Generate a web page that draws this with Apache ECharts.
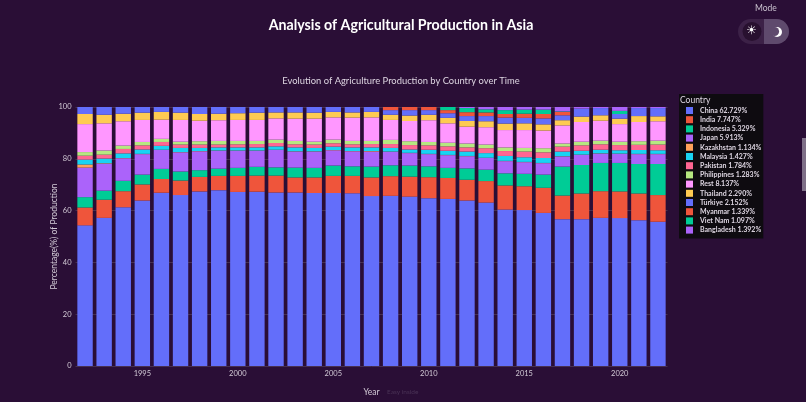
<!DOCTYPE html>
<html>
<head>
<meta charset="utf-8">
<style>
html, body { margin: 0; padding: 0; background: #2a0e36; overflow: hidden; }
#chart { width: 806px; height: 402px; }
</style>
<script src="https://cdn.jsdelivr.net/npm/echarts@6/dist/echarts.min.js"></script>
</head>
<body>
<div id="chart"></div>
<script>
"use strict"

const years = [1992,1993,1994,1995,1996,1997,1998,1999,2000,2001,2002,2003,2004,2005,2006,2007,2008,2009,2010,2011,2012,2013,2014,2015,2016,2017,2018,2019,2020,2021,2022];

const china      = [54.3,57.2,61.3,63.9,66.9,66,67.4,67.9,67.2,67.3,67,67,66.8,66.8,66.7,65.6,65.7,65.4,64.8,64.5,63.9,63.1,60.4,60.2,59.1,56.7,56.7,57.2,57.1,56.3,55.7];
const india      = [6.9,7,6.2,6.2,5.3,5.6,5.6,5.5,6.2,6.2,6.5,5.8,6,6.6,6.7,7.2,7.6,7.7,8.1,8.1,8,8.3,9.3,9.2,9.7,9.1,9.9,10.3,10.3,10.3,10.3];
const indonesia  = [4,3.5,4,3.8,3.9,3.5,2.6,2.8,3.1,3.4,3.2,3.8,3.7,4,3.7,4.2,4.2,4.3,4.2,3.9,4.4,4.4,4.7,4.8,5.1,11.2,11,10.9,11,11.4,12];
const japan      = [11.4,10.4,8.7,7.9,7.3,7.4,7.3,6.9,6.6,6.2,6.7,6.2,6.3,5.9,5.8,5.8,5.2,4.8,4.7,4.9,4.7,4.5,4.7,4.5,4.4,3.9,3.9,3.6,3.5,3.8,3.8];
const kazakhstan = [1.2,0.2,0.1,0.1,0.1,0.1,0.1,0.1,0.1,0.1,0.1,0.1,0.1,0.1,0.1,0.2,0.1,0.1,0.1,0.1,0.1,0.1,0.1,0.1,0.1,0.1,0.1,0.1,0.1,0.1,0.1];
const malaysia   = [1.9,1.8,1.8,1.7,1.5,1.6,1.2,1.2,1.2,1.2,1.3,1.5,1.3,1.3,1.4,1.4,1.4,1.3,1.6,1.6,1.7,1.8,1.9,1.8,1.9,1.8,1.5,1.4,1.3,1.5,1.4];
const pakistan   = [1.5,1.5,1.7,1.6,1.5,1.3,1.3,1.1,1.2,1.3,1.3,1.2,1.3,1.3,1.2,1.3,1.5,1.7,1.7,1.7,1.6,1.9,1.9,2.2,2.2,1.9,2.1,2.1,2,2,2.2];
const philippines= [1.4,1.6,1.3,1.3,1.2,1.1,1.3,1.4,1.3,1.2,1.3,1.3,1.1,1.4,1.3,1.2,1.6,1.5,1.3,1.4,1.5,1.4,1.4,1.4,1.6,1.2,1.4,1.4,1.3,1.4,1.5];
const rest       = [10.8,10.5,9.4,8.5,7.4,8.4,7.9,8,8.1,8.1,8.2,8.6,8.9,8.6,9,9.1,7.7,7.8,8.4,7.5,6.5,6.7,6.7,6.9,6.8,7,7.6,7.7,6.8,7.4,7.5];
const thailand   = [3.9,3.3,2.9,2.8,3,2.8,2.6,2.5,2.6,2.8,2.3,2.4,2.3,2.1,2,2.1,2,2.1,2.1,2.1,2.2,2.3,2.5,2.6,2.4,2,2.1,2.1,2.1,2.3,1.9];
const turkiye    = [2.7,3,2.6,2.2,1.9,2.2,2.7,2.6,2.4,2.2,2.1,2.1,2.2,1.9,2.1,1.9,1.8,2.1,1.8,1.8,1.9,2,2.3,2.1,2.3,1.9,3.1,2.8,1.8,3.1,3.2];
const myanmar    = [0,0,0,0,0,0,0,0,0,0,0,0,0,0,0,0,1.2,1.2,1.2,1.2,1.5,1.4,1.4,1.6,1.7,1.3,0,0,0,0,0];
const vietNam    = [0,0,0,0,0,0,0,0,0,0,0,0,0,0,0,0,0,0,0,1.2,1.6,1.2,1.5,1.6,1.7,0.2,0,0,1.2,0,0];
const bangladesh = [0,0,0,0,0,0,0,0,0,0,0,0,0,0,0,0,0,0,0,0,0.4,0.9,1.2,1,1,1.7,0.6,0.4,1.5,0.4,0.4];

const countries = ["China","India","Indonesia","Japan","Kazakhstan","Malaysia","Pakistan","Philippines","Rest","Thailand","Türkiye","Myanmar","Viet Nam","Bangladesh"];
const shares = ["62.729%","7.747%","5.329%","5.913%","1.134%","1.427%","1.784%","1.283%","8.137%","2.290%","2.152%","1.339%","1.097%","1.392%"];
const colors = ["#636efa","#ef553b","#00cc96","#ab63fa","#ffa15a","#19d3f3","#ff6692","#b6e880","#ff97ff","#fecb52","#636efa","#ef553b","#00cc96","#ab63fa"];
const seriesValues = [china,india,indonesia,japan,kazakhstan,malaysia,pakistan,philippines,rest,thailand,turkiye,myanmar,vietNam,bangladesh];

const font = "Lato, 'Noto Sans', sans-serif";
const myChart = echarts.init(document.getElementById("chart"), null, { renderer: "canvas" });

const option = {
    animation: false,
    backgroundColor: "#2a0e36",
    textStyle: { fontFamily: font },
    title: [
        { text: "Analysis of Agricultural Production in Asia", left: 396, top: 13, textAlign: "center",
          textStyle: { color: "#fff", fontSize: 14.2, fontWeight: "bold", fontFamily: font } },
        { text: "Evolution of Agriculture Production by Country over Time", left: 396, top: 71, textAlign: "center",
          textStyle: { color: "#ded6e2", fontSize: 9.4, fontWeight: "normal", fontFamily: font } }
    ],
    grid: { left: 75.5, top: 107, width: 592, height: 259.5 },
    legend: {
        orient: "vertical", left: 679, top: 94, padding: [13, 2, 5, 7], itemGap: 2.2,
        itemWidth: 7, itemHeight: 7, icon: "rect", backgroundColor: "#0e0b10",
        data: countries,
        formatter: name => name + " " + shares[countries.indexOf(name)],
        textStyle: { color: "#ded6e2", fontSize: 7, fontWeight: "bold", padding: [0, 0, 0, 2], fontFamily: font }
    },
    xAxis: {
        type: "category", data: years,
        axisTick: { show: false },
        axisLine: { show: false },
        axisLabel: { color: "#d2cad6", fontSize: 7.5, margin: 4, interval: (idx, val) => Number(val) % 5 === 0 },
        name: "Year", nameLocation: "middle", nameGap: 22,
        nameTextStyle: { color: "#d2cad6", fontSize: 8.5 }
    },
    yAxis: {
        type: "value", min: 0, max: 100, interval: 20,
        axisLine: { show: false }, axisTick: { show: false },
        splitLine: { lineStyle: { color: "#47304f", width: 1 } },
        axisLabel: { color: "#d2cad6", fontSize: 7.5, margin: 4 },
        name: "Percentage(%) of Production", nameLocation: "middle", nameGap: 17, nameMoveOverlap: false,
        nameTextStyle: { color: "#d2cad6", fontSize: 8.5 }
    },
    series: countries.map((name, i) => ({
        name, type: "bar", stack: "total", barWidth: 15.4,
        data: seriesValues[i],
        itemStyle: { color: colors[i] }
    })),
    graphic: [
        { type: "text", z: 100, left: 680, top: 96, style: { text: "Country", fill: "#ded6e2", fontSize: 8.5, fontFamily: font } },
        { type: "text", z: 100, left: 755, top: 4, style: { text: "Mode", fill: "#c9c0ce", fontSize: 8.5, fontFamily: font } },
        { type: "text", z: 100, left: 387, top: 388, style: { text: "Easy inside", fill: "#4a3356", fontSize: 6.5, fontFamily: font } },
        { type: "rect", z: 100, shape: { x: 738, y: 19, width: 51, height: 25, r: 12.5 }, style: { fill: "#3c2147" } },
        { type: "rect", z: 100, shape: { x: 764, y: 19, width: 25, height: 25, r: [0, 12.5, 12.5, 0] }, style: { fill: "#5f4a6d" } },
        { type: "circle", z: 101, shape: { cx: 752, cy: 31.5, r: 9.5 }, style: { fill: "#28102f" } },
        { type: "text", z: 102, left: 746, top: 25, style: { text: "☀", fill: "#fff", fontSize: 12, fontFamily: "'DejaVu Sans'" } },
        { type: "circle", z: 102, shape: { cx: 777, cy: 32, r: 5 }, style: { fill: "#fff" } },
        { type: "circle", z: 103, shape: { cx: 774.5, cy: 31.5, r: 4.6 }, style: { fill: "#5f4a6d" } },
        { type: "rect", z: 100, shape: { x: 802, y: 138, width: 4, height: 53 }, style: { fill: "#7f7088" } }
    ]
};

myChart.setOption(option);
</script>
</body>
</html>
